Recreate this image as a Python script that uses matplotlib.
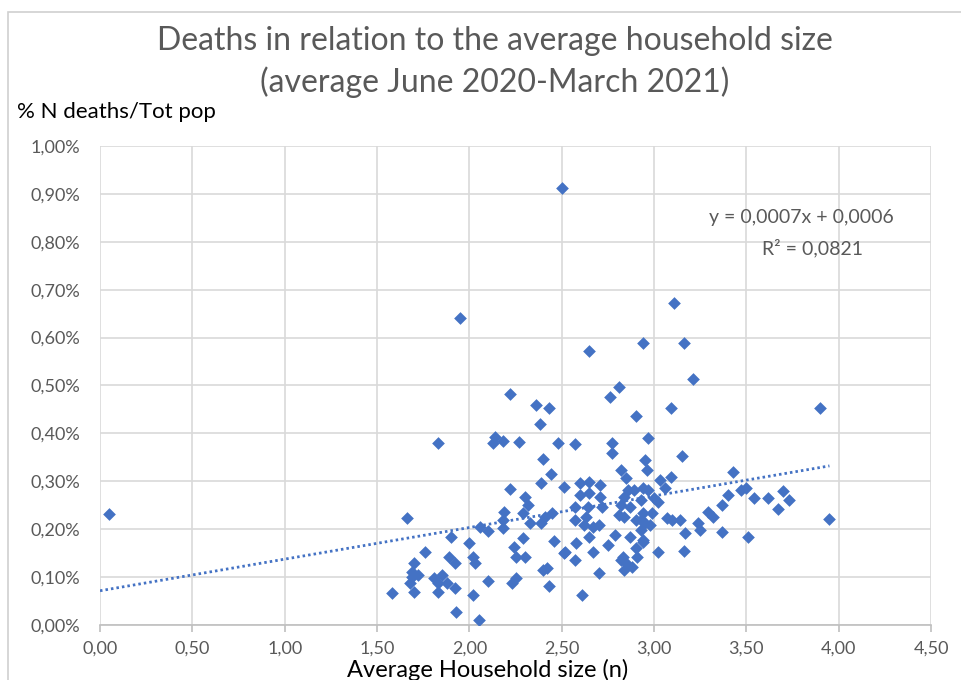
import numpy as np
import matplotlib
matplotlib.use("Agg")
import matplotlib.pyplot as plt
from matplotlib.ticker import FuncFormatter
from matplotlib.patches import Rectangle

title = "Deaths in relation to the average household size\n(average June 2020-March 2021)"
y_label = "% N deaths/Tot pop"
x_label = "Average Household size (n)"
equation = "y = 0,0007x + 0,0006"
r_squared = "R² = 0,0821"

household_size = [
    0.05, 2.50, 1.95, 3.11, 2.65, 2.94, 3.16, 3.21, 2.81, 2.76, 3.09, 2.90, 2.22, 2.36, 2.43, 2.38,
    3.90, 3.95, 1.83, 2.14, 2.18, 2.13, 2.27, 2.48, 2.57, 2.77, 2.77, 2.97, 2.40, 2.44, 2.39, 2.51,
    2.22, 3.15, 2.95, 2.96, 2.82, 2.85, 3.43, 2.30, 2.32, 2.29, 2.19, 2.18, 2.18, 2.06, 2.10, 2.33,
    2.41, 2.45, 2.39, 2.00, 2.02, 2.03, 2.29, 2.24, 2.25, 2.30, 2.46, 2.51, 2.42, 2.40, 2.10, 2.25,
    2.23, 2.43, 2.02, 2.05, 2.60, 2.65, 2.71, 2.60, 2.65, 2.71, 2.57, 2.64, 2.72, 2.84, 2.87, 2.84,
    2.89, 2.94, 2.93, 2.94, 2.57, 2.63, 2.67, 2.62, 2.70, 2.65, 2.79, 2.87, 2.94, 2.58, 2.52, 2.67,
    2.75, 2.57, 2.83, 2.85, 2.91, 2.88, 2.70, 2.61, 3.03, 3.09, 3.06, 2.97, 3.00, 3.02, 3.40, 3.37,
    2.93, 2.95, 2.99, 3.07, 3.10, 3.14, 3.29, 3.32, 3.24, 3.25, 3.17, 3.37, 2.94, 3.02, 3.16, 3.47,
    3.50, 3.54, 3.62, 3.67, 3.70, 3.73, 3.51, 1.66, 1.90, 1.76, 1.70, 1.69, 1.69, 1.68, 1.72, 1.89,
    1.92, 1.81, 1.85, 1.88, 1.83, 1.92, 1.83, 1.70, 1.58, 1.93, 2.82, 2.90, 2.84, 2.82, 2.90, 2.98,
    2.86, 2.81, 2.93,
]
deaths_pct = [
    0.231, 0.913, 0.640, 0.673, 0.571, 0.588, 0.588, 0.513, 0.496, 0.475, 0.452, 0.437, 0.483, 0.460, 0.452, 0.419,
    0.454, 0.221, 0.381, 0.392, 0.385, 0.379, 0.383, 0.381, 0.377, 0.379, 0.360, 0.390, 0.346, 0.315, 0.296, 0.288,
    0.283, 0.352, 0.344, 0.323, 0.323, 0.306, 0.319, 0.267, 0.250, 0.233, 0.235, 0.219, 0.202, 0.204, 0.196, 0.212,
    0.225, 0.233, 0.212, 0.171, 0.142, 0.129, 0.181, 0.162, 0.142, 0.142, 0.175, 0.150, 0.119, 0.115, 0.092, 0.098,
    0.087, 0.081, 0.062, 0.010, 0.296, 0.298, 0.292, 0.271, 0.275, 0.267, 0.246, 0.246, 0.246, 0.267, 0.246, 0.225,
    0.281, 0.287, 0.260, 0.233, 0.219, 0.225, 0.204, 0.208, 0.208, 0.183, 0.187, 0.183, 0.177, 0.171, 0.152, 0.152,
    0.167, 0.135, 0.142, 0.129, 0.142, 0.121, 0.108, 0.062, 0.302, 0.308, 0.287, 0.281, 0.265, 0.256, 0.271, 0.250,
    0.219, 0.212, 0.233, 0.223, 0.219, 0.219, 0.235, 0.225, 0.212, 0.198, 0.192, 0.194, 0.173, 0.152, 0.154, 0.281,
    0.285, 0.265, 0.265, 0.242, 0.279, 0.262, 0.183, 0.223, 0.183, 0.152, 0.129, 0.110, 0.100, 0.087, 0.104, 0.142,
    0.129, 0.098, 0.104, 0.087, 0.087, 0.077, 0.069, 0.069, 0.067, 0.027, 0.135, 0.160, 0.115, 0.250, 0.219, 0.208,
    0.281, 0.229, 0.198,
]

x_ticks = [0.0, 0.5, 1.0, 1.5, 2.0, 2.5, 3.0, 3.5, 4.0, 4.5]
y_ticks = [0.0, 0.1, 0.2, 0.3, 0.4, 0.5, 0.6, 0.7, 0.8, 0.9, 1.0]

plt.rcParams['font.family'] = ['Lato', 'DejaVu Sans']

W, H = 961, 680
fig = plt.figure(figsize=(W / 100, H / 100), dpi=100)
fig.patch.set_facecolor('white')

# chart border
fig.add_artist(Rectangle((8 / W, -0.01), 1.02, 1 - 12 / H + 0.01, transform=fig.transFigure,
                         fill=False, edgecolor='#d0d0d0', linewidth=1.2))

ax = fig.add_axes([100 / W, 1 - 625 / H, 831 / W, 479 / H])
gray = '#595959'
blue = '#4472C4'

xs = np.array(household_size)
ys = np.array(deaths_pct)
ax.scatter(xs, ys, marker='D', s=42, color=blue, linewidths=0, zorder=3)

coef = np.polyfit(xs, ys, 1)
lx = np.array([0.0, xs.max()])
ax.plot(lx, np.polyval(coef, lx), color=blue, linewidth=2.0, linestyle=(0, (0.9, 1.1)),
        dash_capstyle='butt', zorder=2)

ax.set_xlim(0, 4.5)
ax.set_ylim(0, 1.0)
ax.set_xticks(x_ticks)
ax.set_yticks(y_ticks)
ax.xaxis.set_major_formatter(FuncFormatter(lambda v, p: f"{v:.2f}".replace('.', ',')))
ax.yaxis.set_major_formatter(FuncFormatter(lambda v, p: f"{v:.2f}".replace('.', ',') + "%"))
ax.grid(True, color='#d9d9d9', linewidth=1.2, zorder=0)
ax.set_axisbelow(True)
for s in ['top', 'right', 'left']:
    ax.spines[s].set_visible(False)
ax.spines['bottom'].set_color('#bfbfbf')
ax.spines['bottom'].set_linewidth(1.2)
ax.tick_params(axis='x', colors='#bfbfbf', length=5, width=1.2, labelcolor=gray, labelsize=13, pad=6)
ax.tick_params(axis='y', length=0, labelcolor=gray, labelsize=13, pad=14)

fig.text(495 / W, 1 - 62 / H, title, ha='center', va='center', fontsize=23, color=gray,
         linespacing=1.38)
fig.text(17 / W, 1 - 112 / H, y_label, ha='left', va='center', fontsize=16, color='black')
fig.text(488 / W, 1 - 670 / H, x_label, ha='center', va='center', fontsize=17, color='black')

fig.text(801 / W, 1 - 218 / H, equation, ha='center', va='center', fontsize=14, color=gray)
fig.text(812 / W, 1 - 248 / H, r_squared, ha='center', va='center', fontsize=14, color=gray)

fig.savefig('out.png', dpi=100)
